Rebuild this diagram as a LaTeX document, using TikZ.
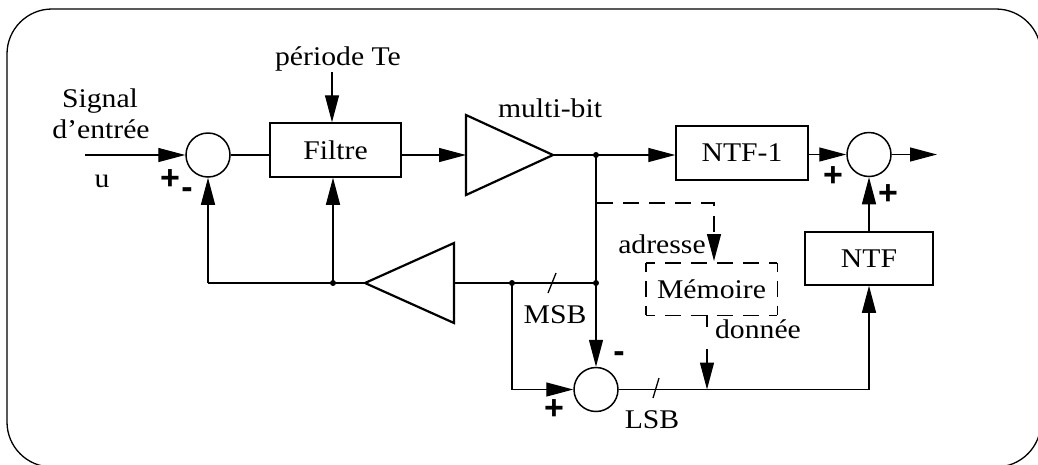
\documentclass[tikz,border=0pt]{standalone}
\usepackage{fontspec}
\setmainfont{Liberation Serif}[FakeStretch=1.1]
\newfontfamily\signfont{Liberation Sans}
\usetikzlibrary{arrows.meta}
\begin{document}
\begin{tikzpicture}[x=1pt,y=-1pt,
  every node/.style={font=\fontsize{27}{32}\selectfont, inner sep=0pt},
  conn/.style={line width=1.3pt},
  arr/.style={conn,-{Triangle[length=27pt,width=14pt]}},
  blk/.style={draw,line width=1.5pt},
  sumc/.style={draw,circle,line width=1.5pt,minimum size=44pt},
  amp/.style={line width=2.2pt,line join=miter},
  dsh/.style={dash pattern=on 16pt off 10pt},
  hdash/.style={line width=1.4pt,dash pattern=on 9pt off 10pt on 16pt off 10pt on 16pt off 10pt on 16pt off 10pt on 16pt off 10pt on 8pt off 200pt},
  vdash/.style={line width=1.4pt,dash pattern=on 9pt off 9pt on 16pt off 9pt on 9pt off 200pt},
  sgn/.style={font=\signfont\bfseries\fontsize{34}{38}\selectfont},
  lbl/.style={anchor=base}
]
\useasboundingbox (0,0) rectangle (1038,464);
\draw[line width=1.3pt, rounded corners=45pt] (7,9) rectangle (1041,467);

% blocks
\node[sumc] (c1) at (208,155) {};
\node[blk,minimum width=131pt,minimum height=54pt] (filtre) at (335.5,150) {Filtre};
\node[blk,minimum width=132pt,minimum height=54pt] (ntf1) at (742,153) {NTF-1};
\node[sumc] (c2) at (869,154.5) {};
\node[blk,minimum width=128pt,minimum height=53pt] (ntf) at (869,258.5) {NTF};
\node[minimum width=131pt,minimum height=52pt] (mem) at (711.5,289) {Mémoire};
\draw[hdash] (mem.north west) -- (mem.north east);
\draw[hdash] (mem.south west) -- (mem.south east);
\draw[vdash] (mem.north west) -- (mem.south west);
\draw[vdash] (mem.north east) -- (mem.south east);
\node[sumc] (c3) at (596,389.5) {};

% amplifiers
\coordinate (a1in) at (466,155);
\coordinate (a1out) at (553,155);
\draw[amp] (466,115) -- (a1out) -- (466,195) -- cycle;
\coordinate (a2in) at (454,283);
\coordinate (a2out) at (365,283);
\draw[amp] (454,243) -- (a2out) -- (454,323) -- cycle;

% coordinates
\coordinate (uin) at (85,155);
\coordinate (out) at (937,154.5);
\coordinate (d1) at (596,155);
\coordinate (d2) at (596,283);
\coordinate (d3) at (512,283);
\coordinate (d4) at (333,283);
\coordinate (fb) at (208,283);
\coordinate (te) at (332,72);
\coordinate (ad0) at (597,203);
\coordinate (adtip) at (714,261);
\coordinate (dn0) at (707,349);
\coordinate (dt0) at (707,315);
\coordinate (dt1) at (707,327);

% connectors
\draw[arr] (uin) -- (c1.west);
\draw[conn] (c1.east) -- (c1.east -| filtre.west);
\draw[arr] (a1in -| filtre.east) -- (a1in);
\draw[arr] (a1out) -- (a1out -| ntf1.west);
\draw[arr] (c2.west -| ntf1.east) -- (c2.west);
\draw[arr] (c2.east) -- (out);
\draw[arr] (ntf.north) -- (c2.south);
\draw[conn] (d1) -- (d2);
\draw[arr] (d2) -- (c3.north);
\draw[conn] (d2) -- (a2in);
\draw[conn] (a2out) -- (fb);
\draw[arr] (fb) -- (c1.south);
\draw[arr] (d4) -- (d4 |- filtre.south);
\draw[arr] (d3) |- (c3.west);
\draw[arr] (c3.east) -| (ntf.south);
\draw[arr] (te) -- (te |- filtre.north);
\draw[arr,dsh] (ad0) -| (adtip);
\draw[arr] (dn0) -- (dn0 |- c3.east);
\draw[conn] (dt0) -- (dt1);

% dots
\foreach \p in {d1,d2,d3,d4} \fill (\p) circle (3pt);

% bus slashes
\draw[conn] (548,293) -- (556,273);
\draw[conn] (653,398) -- (659,378);

% labels
\node[lbl] (sig) at (100,107) {Signal};
\node[lbl] (den) at (101,138) {d’entrée};
\node[lbl] (u) at (102,187) {u};
\node[lbl] (per) at (338,65) {période Te};
\node[lbl] (mb) at (550,117) {multi-bit};
\node[lbl] (adr) at (662,253) {adresse};
\node[lbl] (don) at (758,338) {donnée};
\node[lbl] (msb) at (555,323) {MSB};
\node[lbl] (lsb) at (652,428) {LSB};

% signs
\node[sgn] (p1) at (170,180) {+};
\node[sgn] (m1) at (187,193) {-};
\node[sgn] (p2) at (833,177) {+};
\node[sgn] (p3) at (888,195) {+};
\node[sgn] (m3) at (619,357) {-};
\node[sgn] (p4) at (554,410) {+};
\end{tikzpicture}
\end{document}
